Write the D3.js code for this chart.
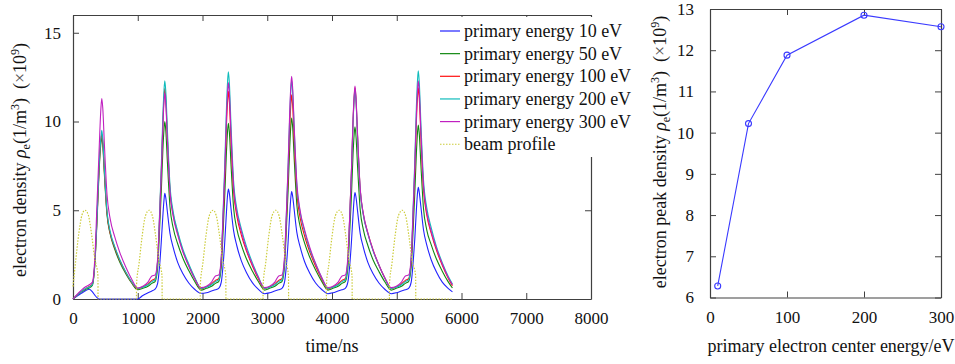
<!DOCTYPE html>
<html>
<head>
<meta charset="utf-8">
<script src="https://cdnjs.cloudflare.com/ajax/libs/d3/7.8.5/d3.min.js"></script>
<style>
  body { margin: 0; background: #fff; }
  svg, svg text { font-family: "Liberation Serif", "Times New Roman", Times, "DejaVu Serif", serif; }
</style>
</head>
<body>
<div id="chart"></div>
<script>
// ---- data ----
var timeNs = [0, 60, 130, 200, 250, 300, 340, 370, 395, 415, 432, 445, 460, 485, 525, 575, 645, 725, 815, 905, 1000,
  1078, 1158, 1218, 1268, 1308, 1338, 1363, 1388, 1406, 1418, 1433, 1458, 1498, 1548, 1618, 1698, 1788, 1878, 1978,
  2060, 2140, 2200, 2250, 2290, 2320, 2345, 2370, 2388, 2400, 2415, 2440, 2480, 2530, 2600, 2680, 2770, 2860, 2960,
  3037, 3117, 3177, 3227, 3267, 3297, 3322, 3347, 3365, 3377, 3392, 3417, 3457, 3507, 3577, 3657, 3747, 3837, 3937,
  4015, 4095, 4155, 4205, 4245, 4275, 4300, 4325, 4343, 4355, 4370, 4395, 4435, 4485, 4555, 4635, 4725, 4815, 4915,
  4993, 5073, 5133, 5183, 5223, 5253, 5278, 5303, 5321, 5333, 5348, 5373, 5413, 5463, 5533, 5613, 5703, 5793, 5860];

var ne10 = [0, 0.15, 0.32, 0.48, 0.55, 0.4, 0.2, 0.08, 0.02, 0, 0, 0, 0, 0, 0, 0, 0, 0, 0, 0, 0,
  0.2, 0.35, 0.45, 0.55, 0.9, 1.9, 3.2, 4.7, 5.6, 5.95, 5.7, 4.9, 3.7, 2.9, 2.05, 1.42, 0.9, 0.55, 0.32,
  0.35, 0.45, 0.52, 0.6, 0.95, 2.0, 3.3, 4.9, 5.9, 6.2, 5.95, 5.1, 3.85, 3.0, 2.15, 1.48, 0.92, 0.56, 0.3,
  0.35, 0.45, 0.52, 0.6, 0.95, 1.95, 3.2, 4.8, 5.75, 6.05, 5.8, 5.0, 3.75, 2.95, 2.1, 1.45, 0.9, 0.55, 0.3,
  0.35, 0.45, 0.52, 0.6, 0.95, 1.95, 3.2, 4.75, 5.7, 6.0, 5.75, 4.95, 3.7, 2.9, 2.05, 1.42, 0.9, 0.55, 0.3,
  0.35, 0.45, 0.52, 0.6, 0.95, 2.05, 3.35, 5.0, 6.0, 6.3, 6.0, 5.2, 3.9, 3.05, 2.2, 1.52, 0.95, 0.6, 0.4];

var ne50 = [0, 0.2, 0.4, 0.55, 0.62, 0.78, 2.1, 4.3, 6.5, 8.0, 8.8, 9.1, 8.65, 7.0, 4.75, 3.65, 2.8, 2.05, 1.42, 0.9, 0.52,
  0.6, 0.72, 0.88, 0.98, 1.8, 4.0, 6.0, 8.4, 9.6, 10.0, 9.5, 7.7, 5.2, 4.0, 3.1, 2.3, 1.6, 1.0, 0.5,
  0.6, 0.72, 0.88, 0.98, 1.8, 3.95, 5.95, 8.3, 9.5, 9.9, 9.4, 7.6, 5.15, 3.95, 3.05, 2.25, 1.58, 1.0, 0.5,
  0.6, 0.72, 0.88, 0.98, 1.85, 4.1, 6.1, 8.55, 9.8, 10.2, 9.7, 7.85, 5.3, 4.1, 3.15, 2.35, 1.63, 1.02, 0.5,
  0.6, 0.72, 0.88, 0.98, 1.75, 3.9, 5.8, 8.15, 9.3, 9.7, 9.2, 7.45, 5.05, 3.9, 3.0, 2.2, 1.55, 0.97, 0.5,
  0.6, 0.72, 0.88, 0.98, 1.8, 3.9, 5.9, 8.2, 9.4, 9.8, 9.3, 7.55, 5.1, 3.9, 3.05, 2.25, 1.57, 0.98, 0.62];

var ne100 = [0, 0.2, 0.42, 0.6, 0.7, 0.85, 2.2, 4.5, 6.7, 8.2, 9.0, 9.3, 8.85, 7.15, 4.85, 3.7, 2.9, 2.15, 1.5, 0.95, 0.58,
  0.68, 0.85, 1.05, 1.15, 2.2, 4.7, 7.1, 9.9, 11.4, 11.85, 11.25, 9.1, 6.15, 4.75, 3.7, 2.7, 1.9, 1.18, 0.58,
  0.68, 0.85, 1.05, 1.15, 2.2, 4.7, 7.0, 9.8, 11.2, 11.7, 11.1, 9.0, 6.1, 4.7, 3.6, 2.7, 1.87, 1.17, 0.58,
  0.68, 0.85, 1.05, 1.15, 2.15, 4.6, 6.9, 9.65, 11.0, 11.5, 10.9, 8.85, 6.0, 4.6, 3.55, 2.65, 1.84, 1.15, 0.57,
  0.68, 0.85, 1.05, 1.15, 2.2, 4.75, 7.15, 10.0, 11.4, 11.9, 11.3, 9.15, 6.2, 4.75, 3.7, 2.75, 1.9, 1.19, 0.59,
  0.68, 0.85, 1.05, 1.15, 2.2, 4.75, 7.15, 10.0, 11.4, 11.9, 11.3, 9.15, 6.2, 4.75, 3.7, 2.75, 1.9, 1.19, 0.75];

var ne200 = [0, 0.2, 0.42, 0.6, 0.68, 0.82, 2.2, 4.5, 6.8, 8.3, 9.1, 9.5, 9.0, 7.3, 4.95, 3.8, 2.95, 2.2, 1.52, 0.97, 0.6,
  0.66, 0.8, 0.98, 1.08, 2.2, 4.9, 7.4, 10.3, 11.8, 12.3, 11.7, 9.5, 6.4, 4.9, 3.8, 2.8, 1.97, 1.23, 0.6,
  0.66, 0.8, 0.98, 1.08, 2.3, 5.1, 7.7, 10.75, 12.3, 12.8, 12.15, 9.85, 6.65, 5.1, 3.95, 2.95, 2.05, 1.28, 0.6,
  0.66, 0.8, 0.98, 1.08, 2.2, 4.9, 7.4, 10.3, 11.8, 12.3, 11.7, 9.5, 6.4, 4.9, 3.8, 2.8, 1.97, 1.23, 0.6,
  0.66, 0.8, 0.98, 1.08, 2.15, 4.7, 7.1, 9.9, 11.3, 11.8, 11.2, 9.1, 6.15, 4.7, 3.65, 2.7, 1.9, 1.18, 0.6,
  0.66, 0.8, 0.98, 1.08, 2.3, 5.15, 7.7, 10.8, 12.35, 12.85, 12.2, 9.9, 6.7, 5.15, 4.0, 2.95, 2.05, 1.3, 0.85];

var ne300 = [0, 0.25, 0.5, 0.7, 0.8, 0.95, 2.5, 5.3, 7.6, 9.5, 10.8, 11.3, 10.75, 8.7, 5.9, 4.5, 3.5, 2.6, 1.8, 1.13, 0.62,
  0.72, 0.95, 1.3, 1.35, 2.3, 4.65, 7.0, 9.7, 11.15, 11.6, 11.0, 8.95, 6.05, 4.65, 3.6, 2.65, 1.85, 1.16, 0.64,
  0.72, 0.95, 1.3, 1.35, 2.35, 4.9, 7.3, 10.25, 11.7, 12.2, 11.6, 9.4, 6.35, 4.9, 3.8, 2.8, 1.95, 1.22, 0.64,
  0.72, 0.95, 1.3, 1.35, 2.4, 5.0, 7.5, 10.55, 12.05, 12.55, 11.9, 9.65, 6.55, 5.0, 3.9, 2.9, 2.0, 1.25, 0.65,
  0.72, 0.95, 1.3, 1.35, 2.35, 4.8, 7.2, 10.1, 11.5, 12.0, 11.4, 9.25, 6.25, 4.8, 3.7, 2.75, 1.92, 1.2, 0.64,
  0.72, 0.95, 1.3, 1.35, 2.35, 4.9, 7.4, 10.35, 11.8, 12.3, 11.7, 9.45, 6.4, 4.9, 3.8, 2.85, 1.97, 1.23, 0.8];

var beamTime = [0, 40, 90, 140, 185, 235, 285, 335, 385, 387, 979,
  980, 981, 1020, 1070, 1120, 1175, 1225, 1275, 1325, 1375, 1377, 1964,
  1965, 1966, 2005, 2055, 2105, 2162, 2212, 2262, 2312, 2360, 2362, 2934,
  2935, 2936, 2975, 3025, 3075, 3133, 3182, 3232, 3282, 3328, 3330, 3912,
  3913, 3914, 3953, 4003, 4053, 4112, 4162, 4212, 4262, 4310, 4312, 4885,
  4886, 4887, 4926, 4976, 5026, 5086, 5136, 5186, 5236, 5292, 5294, 5860];
var beamProfile = [0.7, 2.1, 3.7, 4.75, 5.0, 4.75, 3.7, 2.3, 1.3, 0, 0,
  0, 0.8, 2.0, 3.6, 4.7, 5.0, 4.7, 3.6, 2.2, 1.3, 0, 0,
  0, 0.8, 2.0, 3.6, 4.7, 5.0, 4.7, 3.6, 2.2, 1.3, 0, 0,
  0, 0.8, 2.0, 3.6, 4.7, 5.0, 4.7, 3.6, 2.2, 1.3, 0, 0,
  0, 0.8, 2.0, 3.6, 4.7, 5.0, 4.7, 3.6, 2.2, 1.3, 0, 0,
  0, 0.8, 2.0, 3.6, 4.7, 5.0, 4.7, 3.6, 2.2, 1.3, 0, 0];

var seriesNames = ["primary energy 10 eV", "primary energy 50 eV", "primary energy 100 eV",
                   "primary energy 200 eV", "primary energy 300 eV"];
var seriesColors = ["#2222ff", "#118811", "#ff1010", "#10bcbc", "#c020c0"];
var beamName = "beam profile";
var beamColor = "#cccc3a";

var xTicksLeft = [0, 1000, 2000, 3000, 4000, 5000, 6000, 7000, 8000];
var yTicksLeft = [0, 5, 10, 15];

var centerEnergy = [10, 50, 100, 200, 300];
var peakDensity = [6.28, 10.22, 11.88, 12.85, 12.57];
var xTicksRight = [0, 100, 200, 300];
var yTicksRight = [6, 7, 8, 9, 10, 11, 12, 13];

// ---- layout ----
var W = 955, H = 364;
var axisColor = "#404040";
var serif = '"Liberation Serif", "Times New Roman", Times, "DejaVu Serif", serif';

var svg = d3.select("#chart").append("svg")
    .attr("width", W)
    .attr("height", H)
    .attr("font-family", serif);

// left panel scales
var xL = d3.scaleLinear().domain([0, 8000]).range([73, 591]);
var yL = d3.scaleLinear().domain([0, 16]).range([299, 15]);

// right panel scales
var xR = d3.scaleLinear().domain([0, 300]).range([710, 941]);
var yR = d3.scaleLinear().domain([6, 13]).range([297.5, 9]);

function styleAxis(g) {
  g.attr("font-family", serif).attr("font-size", 17);
  g.select(".domain").attr("stroke", axisColor).attr("stroke-width", 1.2);
  g.selectAll(".tick line").attr("stroke", axisColor);
  g.selectAll(".tick text").attr("fill", "#111");
}

function drawFrame(x, y, xt, yt, padX, padY) {
  var x0 = x.range()[0], x1 = x.range()[1], y0 = y.range()[0], y1 = y.range()[1];
  svg.append("g").attr("transform", "translate(0," + y0 + ")")
    .call(d3.axisBottom(x).tickValues(xt).tickFormat(d3.format("d")).tickSize(-6).tickSizeOuter(0).tickPadding(padX))
    .call(styleAxis);
  svg.append("g").attr("transform", "translate(0," + y1 + ")")
    .call(d3.axisTop(x).tickValues(xt).tickSize(-6).tickSizeOuter(0).tickFormat(""))
    .call(styleAxis);
  svg.append("g").attr("transform", "translate(" + x0 + ",0)")
    .call(d3.axisLeft(y).tickValues(yt).tickFormat(d3.format("d")).tickSize(-6).tickSizeOuter(0).tickPadding(padY))
    .call(styleAxis);
  svg.append("g").attr("transform", "translate(" + x1 + ",0)")
    .call(d3.axisRight(y).tickValues(yt).tickSize(-6).tickSizeOuter(0).tickFormat(""))
    .call(styleAxis);
}

drawFrame(xL, yL, xTicksLeft, yTicksLeft, 13, 12);
drawFrame(xR, yR, xTicksRight, yTicksRight, 13, 16);

// ---- left panel lines ----
var allSeries = [ne10, ne50, ne100, ne200, ne300];

var lineL = d3.line()
    .x(function(d) { return xL(d[0]); })
    .y(function(d) { return yL(d[1]); })
    .curve(d3.curveMonotoneX);

allSeries.forEach(function(vals, i) {
  var pts = timeNs.map(function(t, j) { return [t, vals[j]]; });
  svg.append("path")
    .datum(pts)
    .attr("fill", "none")
    .attr("stroke", seriesColors[i])
    .attr("stroke-width", 1.1)
    .attr("d", lineL);
});

var beamPts = beamTime.map(function(t, j) { return [t, beamProfile[j]]; });
svg.append("path")
  .datum(beamPts)
  .attr("fill", "none")
  .attr("stroke", beamColor)
  .attr("stroke-width", 1.2)
  .attr("stroke-dasharray", "1.5,1.5")
  .attr("d", d3.line()
    .x(function(d) { return xL(d[0]); })
    .y(function(d) { return yL(d[1]); })
    .curve(d3.curveMonotoneX));

// legend (white background hides part of the right axis, like the original)
var legend = svg.append("g");
legend.append("rect")
  .attr("x", 436).attr("y", 17).attr("width", 206).attr("height", 140)
  .attr("fill", "#fff");
var legendItems = seriesNames.concat([beamName]);
var legendColors = seriesColors.concat([beamColor]);
legendItems.forEach(function(name, i) {
  var yy = 31 + i * 22.65;
  legend.append("line")
    .attr("x1", 440).attr("x2", 460).attr("y1", yy).attr("y2", yy)
    .attr("stroke", legendColors[i])
    .attr("stroke-width", 1.2)
    .attr("stroke-dasharray", i === 5 ? "1.5,1.5" : null);
  legend.append("text")
    .attr("x", 464).attr("y", yy).attr("dy", "0.33em")
    .attr("font-size", 18).attr("fill", "#111")
    .text(name);
});

// ---- right panel ----
var lineR = d3.line()
    .x(function(d, i) { return xR(centerEnergy[i]); })
    .y(function(d) { return yR(d); });

svg.append("path")
  .datum(peakDensity)
  .attr("fill", "none")
  .attr("stroke", "#3a3aff")
  .attr("stroke-width", 1.1)
  .attr("d", lineR);

svg.selectAll(".mk")
  .data(peakDensity)
  .enter().append("circle")
    .attr("cx", function(d, i) { return xR(centerEnergy[i]); })
    .attr("cy", function(d) { return yR(d); })
    .attr("r", 3)
    .attr("fill", "none")
    .attr("stroke", "#3a3aff")
    .attr("stroke-width", 1.1);

// ---- axis titles ----
svg.append("text")
  .attr("x", 332).attr("y", 352)
  .attr("text-anchor", "middle")
  .attr("font-size", 18).attr("fill", "#111")
  .text("time/ns");

svg.append("text")
  .attr("x", 831).attr("y", 352)
  .attr("text-anchor", "middle")
  .attr("font-size", 18).attr("fill", "#111")
  .text("primary electron center energy/eV");

function yTitle(cx, cy, first) {
  var t = svg.append("text")
    .attr("transform", "translate(" + cx + "," + cy + ") rotate(-90)")
    .attr("text-anchor", "middle")
    .attr("font-size", 18).attr("fill", "#111");
  t.append("tspan").text(first);
  t.append("tspan").attr("font-style", "italic").text("\u03C1");
  t.append("tspan").attr("dy", 4).attr("font-size", 12).text("e");
  t.append("tspan").attr("dy", -4).text("(1/m");
  t.append("tspan").attr("dy", -7).attr("font-size", 12).text("3");
  t.append("tspan").attr("dy", 7).text(")\u00A0 (");
  t.append("tspan").attr("fill", "#555").text("\u00D7");
  t.append("tspan").text("10");
  t.append("tspan").attr("dy", -7).attr("font-size", 12).text("9");
  t.append("tspan").attr("dy", 7).text(")");
}

yTitle(26, 160, "electron density ");
yTitle(666, 152, "electron peak density ");
</script>
</body>
</html>
